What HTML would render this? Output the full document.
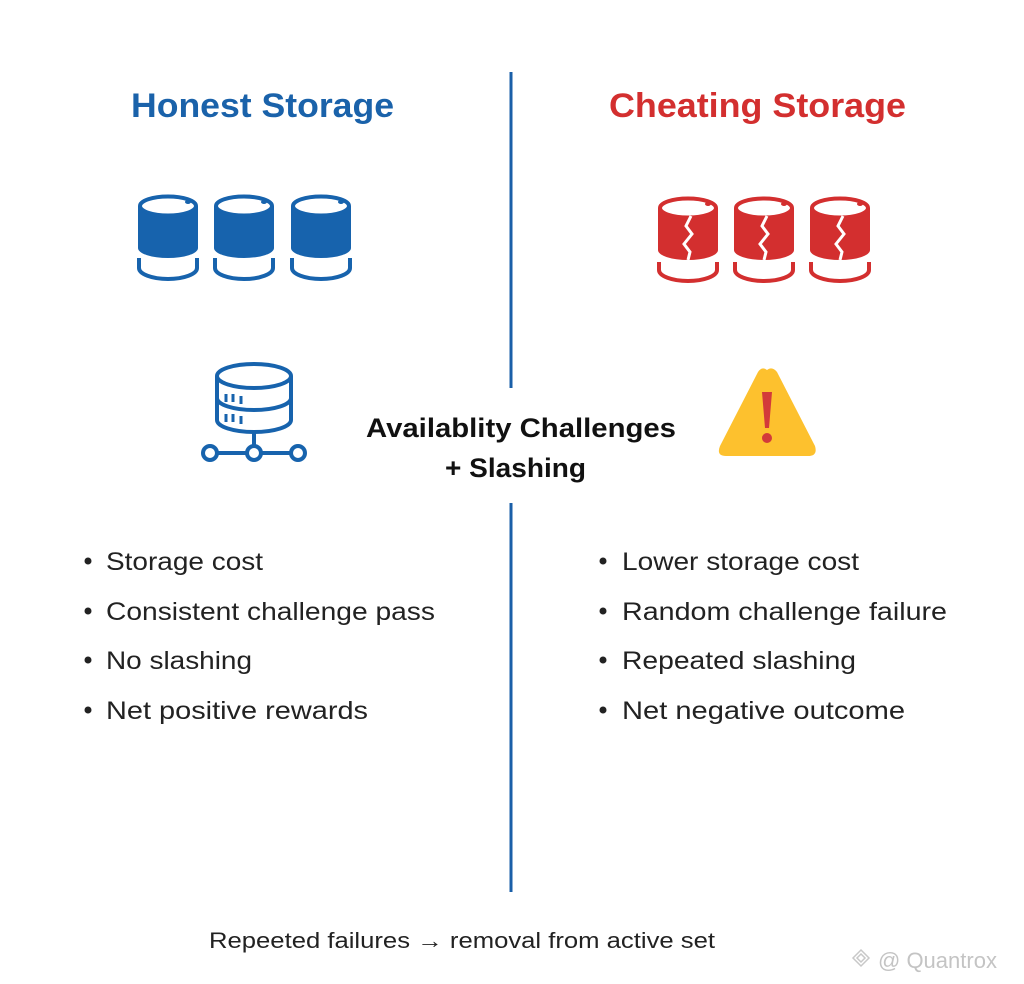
<!DOCTYPE html>
<html><head><meta charset="utf-8"><style>
html,body{margin:0;padding:0;background:#fff;}
svg{display:block;}
text{font-family:"Liberation Sans",sans-serif;}
</style></head><body>
<svg width="1024" height="984" viewBox="0 0 1024 984" xmlns="http://www.w3.org/2000/svg">
<defs>
<g id="cylB">
  <path d="M0,206 V248 A30,10 0 0 0 60,248 V206 Z" fill="#1763ad"/>
  <ellipse cx="30" cy="206" rx="28" ry="9.5" fill="#fff" stroke="#1763ad" stroke-width="4"/>
  <ellipse cx="50" cy="202" rx="3" ry="2" fill="#1763ad"/>
  <path d="M1,258 V268 A29,11 0 0 0 59,268 V258" fill="none" stroke="#1763ad" stroke-width="4"/>
</g>
<g id="cylR">
  <path d="M0,208 V250 A30,10 0 0 0 60,250 V208 Z" fill="#d32f2f"/>
  <ellipse cx="30" cy="208" rx="28" ry="9.5" fill="#fff" stroke="#d32f2f" stroke-width="4"/>
  <ellipse cx="50" cy="204" rx="3" ry="2" fill="#d32f2f"/>
  <path d="M33,216 L28,226 L34,234 L26,244 L32,252 L30,260" fill="none" stroke="#fff" stroke-width="3"/>
  <path d="M1,262 V270 A29,11 0 0 0 59,270 V262" fill="none" stroke="#d32f2f" stroke-width="4"/>
</g>
</defs>
<rect width="1024" height="984" fill="#fff"/>
<line x1="511" y1="72" x2="511" y2="388" stroke="#1a5fa8" stroke-width="3"/>
<line x1="511" y1="503" x2="511" y2="892" stroke="#1a5fa8" stroke-width="3"/>

<text x="131" y="117" font-size="34" font-weight="bold" fill="#1a62aa" textLength="263" lengthAdjust="spacingAndGlyphs">Honest Storage</text>
<text x="609" y="117" font-size="34" font-weight="bold" fill="#d32f2f" textLength="297" lengthAdjust="spacingAndGlyphs">Cheating Storage</text>

<use href="#cylB" x="138" y="0"/>
<use href="#cylB" x="214" y="0"/>
<use href="#cylB" x="291" y="0"/>
<use href="#cylR" x="658" y="0"/>
<use href="#cylR" x="734" y="0"/>
<use href="#cylR" x="810" y="0"/>

<!-- server icon -->
<g fill="none" stroke="#1763ad" stroke-width="4">
  <ellipse cx="254" cy="376" rx="37" ry="12"/>
  <path d="M217,376 V420 A37,12 0 0 0 291,420 V376"/>
  <path d="M217,398 A37,12 0 0 0 291,398"/>
  <line x1="254" y1="432" x2="254" y2="447"/>
  <line x1="217" y1="453" x2="246" y2="453"/>
  <line x1="262" y1="453" x2="292" y2="453"/>
  <circle cx="210" cy="453" r="7"/>
  <circle cx="254" cy="453" r="7"/>
  <circle cx="298" cy="453" r="7"/>
</g>
<g stroke="#1763ad" stroke-width="3">
  <line x1="226" y1="394" x2="226" y2="402"/><line x1="233" y1="394" x2="233" y2="402"/><line x1="241" y1="396" x2="241" y2="404"/>
  <line x1="226" y1="414" x2="226" y2="422"/><line x1="233" y1="414" x2="233" y2="422"/><line x1="241" y1="416" x2="241" y2="424"/>
</g>

<!-- warning -->
<path d="M767,370 Q772,366 777,372 L815,446 Q818,456 808,456 L726,456 Q716,456 720,446 L758,372 Q762,366 767,370 Z" fill="#fdc12e"/>
<path d="M762,392 L772,392 L769,428 L765,428 Z" fill="#d33a3a"/>
<circle cx="767" cy="438" r="5" fill="#d33a3a"/>

<text x="366" y="437" font-size="27" font-weight="bold" fill="#111" textLength="310" lengthAdjust="spacingAndGlyphs">Availablity Challenges</text>
<text x="445" y="477" font-size="27" font-weight="bold" fill="#111" textLength="141" lengthAdjust="spacingAndGlyphs">+ Slashing</text>

<g font-size="25" fill="#222">
  <circle cx="88" cy="561" r="3.5" fill="#222"/><text x="106" y="570" textLength="157" lengthAdjust="spacingAndGlyphs">Storage cost</text>
  <circle cx="88" cy="611" r="3.5" fill="#222"/><text x="106" y="620" textLength="329" lengthAdjust="spacingAndGlyphs">Consistent challenge pass</text>
  <circle cx="88" cy="660" r="3.5" fill="#222"/><text x="106" y="669" textLength="146" lengthAdjust="spacingAndGlyphs">No slashing</text>
  <circle cx="88" cy="710" r="3.5" fill="#222"/><text x="106" y="719" textLength="262" lengthAdjust="spacingAndGlyphs">Net positive rewards</text>

  <circle cx="603" cy="561" r="3.5" fill="#222"/><text x="622" y="570" textLength="237" lengthAdjust="spacingAndGlyphs">Lower storage cost</text>
  <circle cx="603" cy="611" r="3.5" fill="#222"/><text x="622" y="620" textLength="325" lengthAdjust="spacingAndGlyphs">Random challenge failure</text>
  <circle cx="603" cy="660" r="3.5" fill="#222"/><text x="622" y="669" textLength="234" lengthAdjust="spacingAndGlyphs">Repeated slashing</text>
  <circle cx="603" cy="710" r="3.5" fill="#222"/><text x="622" y="719" textLength="283" lengthAdjust="spacingAndGlyphs">Net negative outcome</text>
</g>

<text x="209" y="948" font-size="22" fill="#222" textLength="506" lengthAdjust="spacingAndGlyphs">Repeeted failures → removal from active set</text>

<g fill="none" stroke="#c8c8c8" stroke-width="1.5">
  <path d="M861,950 L869,958 L861,966 L853,958 Z"/>
  <path d="M861,954 L865,958 L861,962 L857,958 Z"/>
</g>
<text x="878" y="968" font-size="22" fill="#c4c4c4">@ Quantrox</text>
</svg>
</body></html>
